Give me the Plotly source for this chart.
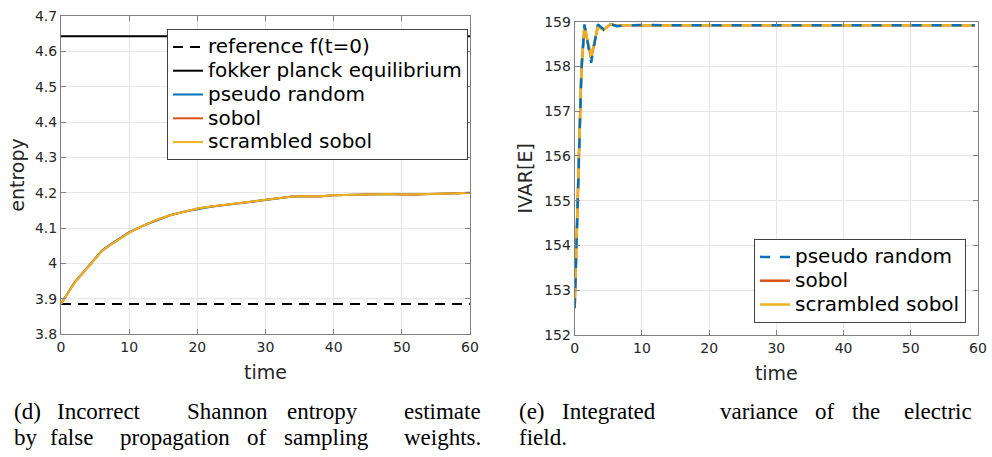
import plotly.graph_objects as go

# ---------------- data: left panel (entropy) ----------------
t_ent = [0, 1, 2, 3, 4, 5, 6, 7, 8, 9, 10, 12, 14, 16, 18, 20, 22, 24, 26, 28, 30,
         32, 34, 36, 38, 40, 42, 44, 46, 48, 50, 52, 54, 56, 58, 60]
ent_pseudo = [3.885, 3.917, 3.946, 3.969, 3.991, 4.014, 4.036, 4.050, 4.062, 4.076, 4.088,
              4.106, 4.122, 4.136, 4.146, 4.154, 4.160, 4.165, 4.170, 4.174, 4.180,
              4.185, 4.189, 4.190, 4.190, 4.193, 4.194, 4.194, 4.196, 4.196, 4.195,
              4.195, 4.196, 4.197, 4.198, 4.200]
ent_sobol = [3.885, 3.917, 3.946, 3.968, 3.990, 4.013, 4.035, 4.049, 4.062, 4.075, 4.087,
             4.106, 4.123, 4.136, 4.146, 4.155, 4.161, 4.165, 4.171, 4.174, 4.180,
             4.185, 4.189, 4.190, 4.189, 4.193, 4.194, 4.194, 4.196, 4.196, 4.195,
             4.194, 4.196, 4.197, 4.198, 4.199]
ent_scrambled = [3.885, 3.916, 3.945, 3.968, 3.990, 4.013, 4.035, 4.049, 4.061, 4.075, 4.087,
                 4.106, 4.123, 4.136, 4.146, 4.155, 4.161, 4.165, 4.171, 4.175, 4.180,
                 4.185, 4.189, 4.190, 4.190, 4.193, 4.194, 4.194, 4.196, 4.196, 4.195,
                 4.195, 4.196, 4.197, 4.198, 4.200]
level_x = [0, 60]
ref_level = 3.885      # reference f(t=0)
fp_level = 4.643       # fokker planck equilibrium

# ---------------- data: right panel (IVAR[E]) ----------------
t_var = [0, 0.5, 1.0, 1.45, 2.45, 3.45, 4.3, 5.3, 6.3, 7.5,
         9, 11, 13, 15, 17, 19, 21, 23, 25, 27,
         29, 31, 33, 35, 37, 39, 41, 43, 45, 47,
         49, 51, 53, 55, 57, 59.5]
var_pseudo = [152.60, 155.20, 157.90, 158.94, 158.08, 158.94, 158.83, 158.95, 158.90, 158.92,
              158.93, 158.93, 158.92, 158.92, 158.93, 158.92, 158.92, 158.92, 158.93, 158.92,
              158.92, 158.92, 158.93, 158.92, 158.92, 158.93, 158.93, 158.92, 158.92, 158.93,
              158.92, 158.92, 158.92, 158.93, 158.92, 158.92]
var_sobol = [152.65, 155.30, 157.95, 158.90, 158.18, 158.90, 158.82, 158.94, 158.91, 158.92,
             158.92, 158.93, 158.92, 158.93, 158.92, 158.92, 158.93, 158.92, 158.92, 158.92,
             158.93, 158.92, 158.93, 158.92, 158.92, 158.92, 158.93, 158.92, 158.93, 158.92,
             158.92, 158.93, 158.92, 158.92, 158.93, 158.92]
var_scrambled = [152.70, 155.30, 157.95, 158.90, 158.22, 158.90, 158.81, 158.94, 158.91, 158.92,
                 158.92, 158.92, 158.92, 158.92, 158.92, 158.93, 158.92, 158.92, 158.92, 158.93,
                 158.92, 158.92, 158.92, 158.92, 158.93, 158.92, 158.92, 158.92, 158.92, 158.92,
                 158.93, 158.92, 158.92, 158.92, 158.92, 158.92]

# ticks
x_ticks = [0, 10, 20, 30, 40, 50, 60]
y1_ticks = [3.8, 3.9, 4.0, 4.1, 4.2, 4.3, 4.4, 4.5, 4.6, 4.7]
y1_ticktext = ["3.8", "3.9", "4", "4.1", "4.2", "4.3", "4.4", "4.5", "4.6", "4.7"]
y2_ticks = [152, 153, 154, 155, 156, 157, 158, 159]

# captions: (word, left pixel, line)
caption_words = [
    ("(d)", 12, 0), ("Incorrect", 55, 0), ("Shannon", 185, 0), ("entropy", 285, 0), ("estimate", 402, 0),
    ("by", 12, 1), ("false", 48, 1), ("propagation", 118, 1), ("of", 245, 1), ("sampling", 282, 1), ("weights.", 402, 1),
    ("(e)", 517, 0), ("Integrated", 560, 0), ("variance", 718, 0), ("of", 813, 0), ("the", 850, 0), ("electric", 902, 0),
    ("field.", 517, 1),
]

BLUE = "#0072BD"
ORANGE = "#D95319"
YELLOW = "#EDB120"

W, H = 992, 457


def px_x(p):
    return p / W


def px_y(p):
    return (H - p) / H


def lg(name):
    # legend text drawn at 20px while rows keep the tighter spacing of legend.font.size
    return '<span style="font-size:20px">' + name + '</span>'


fig = go.Figure()

# left panel
fig.add_trace(go.Scatter(x=level_x, y=[ref_level, ref_level], mode="lines", name=lg("reference f(t=0)"),
                         line=dict(color="black", width=2, dash="10px,7px"), legend="legend", xaxis="x", yaxis="y"))
fig.add_trace(go.Scatter(x=level_x, y=[fp_level, fp_level], mode="lines", name=lg("fokker planck equilibrium"),
                         line=dict(color="black", width=2), legend="legend", xaxis="x", yaxis="y"))
fig.add_trace(go.Scatter(x=t_ent, y=ent_pseudo, mode="lines", name=lg("pseudo random"),
                         line=dict(color=BLUE, width=2), legend="legend", xaxis="x", yaxis="y"))
fig.add_trace(go.Scatter(x=t_ent, y=ent_sobol, mode="lines", name=lg("sobol"),
                         line=dict(color=ORANGE, width=2), legend="legend", xaxis="x", yaxis="y"))
fig.add_trace(go.Scatter(x=t_ent, y=ent_scrambled, mode="lines", name=lg("scrambled sobol"),
                         line=dict(color=YELLOW, width=2), legend="legend", xaxis="x", yaxis="y"))

# right panel
fig.add_trace(go.Scatter(x=t_var, y=var_sobol, mode="lines", name=lg("sobol"), legendrank=2,
                         line=dict(color=ORANGE, width=2.5), legend="legend2", xaxis="x2", yaxis="y2"))
fig.add_trace(go.Scatter(x=t_var, y=var_scrambled, mode="lines", name=lg("scrambled sobol"), legendrank=3,
                         line=dict(color=YELLOW, width=2.5), legend="legend2", xaxis="x2", yaxis="y2"))
fig.add_trace(go.Scatter(x=t_var, y=var_pseudo, mode="lines", name=lg("pseudo random"), legendrank=1,
                         line=dict(color=BLUE, width=2.5, dash="10px,10px"), legend="legend2", xaxis="x2", yaxis="y2"))

axis_common = dict(
    showline=True, linecolor="#808080", linewidth=1, mirror="ticks",
    ticks="inside", ticklen=5, tickcolor="#808080",
    showgrid=True, gridcolor="#e6e6e6", gridwidth=1, zeroline=False,
    tickfont=dict(family="DejaVu Sans", size=14, color="#262626"),
    automargin=False, ticklabeloverflow="allow",
)
title_font = dict(family="DejaVu Sans", size=19, color="#262626")
legend_font = dict(family="DejaVu Sans", size=16, color="black")

fig.update_layout(
    width=W, height=H,
    margin=dict(l=0, r=0, t=0, b=0),
    paper_bgcolor="white", plot_bgcolor="white",
    xaxis=dict(domain=[px_x(61), px_x(470)], range=[0, 60], tickvals=x_ticks, anchor="y",
               title=dict(text="time", font=title_font, standoff=11), **axis_common),
    yaxis=dict(domain=[px_y(334), px_y(16)], range=[3.8, 4.7], tickvals=y1_ticks, ticktext=y1_ticktext,
               anchor="x", title=dict(text="entropy", font=title_font, standoff=5), **axis_common),
    xaxis2=dict(domain=[px_x(574.7), px_x(978)], range=[0, 60], tickvals=x_ticks, anchor="y2",
                title=dict(text="time", font=title_font, standoff=11), **axis_common),
    yaxis2=dict(domain=[px_y(335), px_y(21.7)], range=[152, 159], tickvals=y2_ticks,
                anchor="x2", title=dict(text="IVAR[E]", font=title_font, standoff=6), **axis_common),
    legend=dict(x=px_x(167), y=px_y(29), xanchor="left", yanchor="top",
                bgcolor="white", bordercolor="#404040", borderwidth=1, itemwidth=30,
                font=legend_font, tracegroupgap=0),
    legend2=dict(x=px_x(966), y=px_y(323), xanchor="right", yanchor="bottom",
                 bgcolor="white", bordercolor="#404040", borderwidth=1, itemwidth=30,
                 font=legend_font, tracegroupgap=0, traceorder="normal"),
)

line_y = [411, 437]
for word, px, ln in caption_words:
    fig.add_annotation(text=word, x=px_x(px), y=px_y(line_y[ln]), xref="paper", yref="paper",
                       xanchor="left", yanchor="middle", showarrow=False,
                       font=dict(family="Liberation Serif", size=23, color="black"))

# remove the default page margin so the 992x457 figure fills the window exactly
fig.write_html("out.html",
               config={"displayModeBar": False},
               post_script="document.body.style.margin='0';document.documentElement.style.overflow='hidden';")
